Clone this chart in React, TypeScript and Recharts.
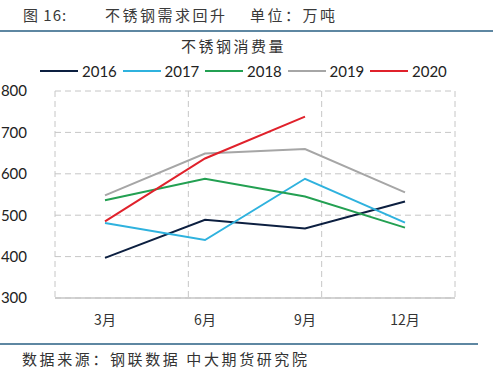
import { LineChart, Line, XAxis, YAxis, CartesianGrid } from "recharts"

const months = ["3月", "6月", "9月", "12月"]
const years = ["2016", "2017", "2018", "2019", "2020"]
const colors = ["#0c1f40", "#2fb2de", "#23a052", "#a6a6a6", "#e0212b"]

const v2016 = [397, 489, 468, 533]
const v2017 = [481, 440, 588, 482]
const v2018 = [536, 588, 545, 470]
const v2019 = [548, 649, 660, 555]
const v2020 = [485, 637, 738, null]

const yTicks = [300, 400, 500, 600, 700, 800]
const edgeTicks = [0, 1, 2, 3, 4]

const series = [v2016, v2017, v2018, v2019, v2020]

const data = months.map((m, i) => {
  const row: Record<string, string | number | null> = { month: m }
  years.forEach((y, k) => {
    row[y] = series[k][i]
  })
  return row
})

const cjk = '"Noto Sans CJK SC", sans-serif'
const num = 'Lato, "Noto Sans", sans-serif'

const EmptyTick = () => <g />

function LegendRow() {
  return (
    <div style={{ display: "flex", fontFamily: num, fontSize: 15, color: "#222" }}>
      {years.map((y, i) => (
        <div key={y} style={{ display: "flex", alignItems: "center", width: 82.5 }}>
          <div style={{ width: 38, height: 2, background: colors[i], marginRight: 4 }} />
          <span>{y}</span>
        </div>
      ))}
    </div>
  )
}

const head = { position: "absolute" as const, top: 4, fontSize: 15, letterSpacing: 2.5, color: "#3a3a3a" }

export default function App() {
  return (
    <div style={{ position: "absolute", left: 0, top: 0, width: 493, height: 384, background: "#fff", fontFamily: cjk }}>
      <div style={{ ...head, left: 23, letterSpacing: 1 }}>图 16:</div>
      <div style={{ ...head, left: 105 }}>不锈钢需求回升</div>
      <div style={{ ...head, left: 250 }}>单位：万吨</div>
      <div style={{ position: "absolute", left: 0, top: 30, width: 493, height: 2, background: "#5e87a2" }} />
      <div style={{ position: "absolute", left: 181, top: 35, fontSize: 15, letterSpacing: 2.5, color: "#333" }}>不锈钢消费量</div>

      <div style={{ position: "absolute", left: 40, top: 62 }}>
        <LegendRow />
      </div>

      <div style={{ position: "absolute", left: 0, top: 0 }}>
        <LineChart width={493} height={330} data={data} margin={{ top: 91, right: 38, left: 0, bottom: 0 }}>
          <CartesianGrid xAxisId="edge" stroke="#c6c6c6" strokeDasharray="6 4" />
          <XAxis
            xAxisId="edge"
            type="number"
            domain={[0, 4]}
            ticks={edgeTicks}
            tick={EmptyTick}
            axisLine={false}
            tickLine={{ stroke: "#c6c6c6", strokeWidth: 1.5 }}
            tickSize={5}
            height={0}
          />
          <XAxis
            xAxisId="cat"
            dataKey="month"
            padding={{ left: 50, right: 50 }}
            axisLine={{ stroke: "#c6c6c6", strokeWidth: 1.5 }}
            tickLine={false}
            tick={{ fill: "#333", fontSize: 14, fontFamily: cjk }}
            tickMargin={11}
            height={32}
          />
          <YAxis
            domain={[300, 800]}
            ticks={yTicks}
            axisLine={false}
            tickLine={false}
            width={55}
            tick={{ fill: "#222", fontSize: 15, fontFamily: num }}
            tickMargin={22}
          />
          {years.map((y, i) => (
            <Line
              key={y}
              xAxisId="cat"
              dataKey={y}
              stroke={colors[i]}
              strokeWidth={2}
              dot={false}
              isAnimationActive={false}
            />
          ))}
        </LineChart>
      </div>

      <div style={{ position: "absolute", left: 0, top: 343, width: 478, height: 2, background: "#5e87a2" }} />
      <div style={{ position: "absolute", left: 22, top: 348, fontSize: 15, letterSpacing: 2.6, color: "#333" }}>数据来源：钢联数据 中大期货研究院</div>
    </div>
  )
}
